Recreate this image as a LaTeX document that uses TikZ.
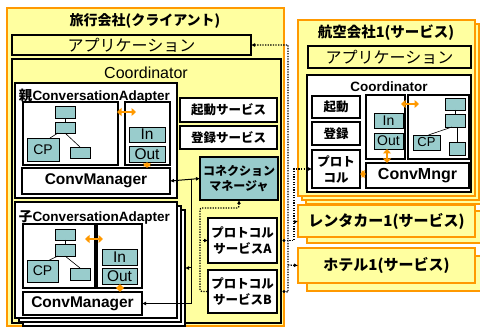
\documentclass[tikz,border=0pt]{standalone}
\usepackage{fontspec}
\setmainfont{Liberation Sans}
\newfontfamily\jp{Noto Sans CJK JP}
\usetikzlibrary{arrows.meta}
\definecolor{pale}{RGB}{255,255,160}
\definecolor{orng}{RGB}{255,153,0}
\definecolor{tealc}{RGB}{153,204,204}
% box from its corners: [style]{name}{x1}{y1}{x2}{y2}{text}
\newcommand{\tbx}[7][]{%
  \pgfmathsetmacro\tbxw{#5-#3}%
  \pgfmathsetmacro\tbxh{#6-#4}%
  \node[#1, anchor=north west, minimum width=\tbxw pt, minimum height=\tbxh pt] (#2) at (#3,#4) {#7};}
\begin{document}
\begin{tikzpicture}[x=1pt,y=-1pt,
  every node/.style={inner sep=0pt,outer sep=0pt},
  orframe/.style={draw=orng,line width=1.5pt,fill=pale},
  appbox/.style={draw=black,line width=1.5pt,fill=pale,font=\jp\fontsize{16}{18}\selectfont},
  coordbox/.style={draw=black,line width=1.5pt,fill=pale},
  wbox/.style={draw=black,line width=1.2pt,fill=white},
  tbox/.style={draw=black,line width=0.8pt,fill=tealc,font=\fontsize{14}{16}\selectfont},
  iobox/.style={tbox,font=\fontsize{15.5}{17}\selectfont},
  cmbox/.style={wbox,line width=1.5pt,font=\bfseries\fontsize{15.5}{18}\selectfont},
  svbox/.style={draw=black,line width=1.5pt,fill=white,align=center,font=\jp\bfseries\fontsize{12.5}{16}\selectfont},
  cnbox/.style={draw=black,line width=2pt,fill=tealc,align=center,font=\jp\bfseries\fontsize{12}{15}\selectfont},
  orbox/.style={draw=orng,line width=1.5pt,fill=pale},
  tline/.style={draw=black,line width=0.6pt},
  oarr/.style={draw=orng,line width=2.2pt,{Triangle[length=4.5pt,width=8pt]}-{Triangle[length=4.5pt,width=8pt]}},
  blk/.style={draw=black,line width=1pt},
  dotl/.style={draw=black,line width=1.3pt,dash pattern=on 1.3pt off 1.3pt}
]
\useasboundingbox (0,0) rectangle (480,328);
\fill[white] (0,0) rectangle (480,328);

% ---------- client side ----------
\tbx[orframe]{client}{7}{8}{284}{326}{}
\node[font=\jp\bfseries\fontsize{14}{16}\selectfont] (ctitle) at (145,21) {旅行会社(クライアント)};
\tbx[appbox]{app}{12}{35}{251}{55}{アプリケーション}
\tbx[coordbox]{coord}{12}{59}{281}{323}{}
\node[font=\fontsize{16}{18}\selectfont] (coordlbl) at (146,73) {Coordinator};

% parent conversation adapter
\tbx[wbox]{padapt}{15}{83}{177}{198}{}
\node[anchor=west,font=\bfseries\fontsize{13.5}{16}\selectfont] (padlbl) at (19,96) {{\jp 親}ConversationAdapter};
\tbx[wbox]{pleft}{23}{102}{118}{165}{}
\tbx[wbox]{pright}{125}{102}{170}{165}{}
\tbx[tbox]{pt1}{55}{106}{75}{118}{}
\tbx[tbox]{pt2}{55}{122}{75}{133}{}
\tbx[tbox]{pcp}{27}{138}{59}{161}{CP}
\tbx[tbox]{pt3}{70}{147}{90}{158}{}
\draw[tline] (pt1.south) -- (pt2.north);
\draw[tline] ([xshift=3pt]pt2.south west) -- ([xshift=7pt]pcp.north);
\draw[tline] (pt2.south) -- (pt3.north);
\tbx[iobox]{pin}{129}{127}{165}{142}{In}
\tbx[iobox]{pout}{129}{146}{165}{162}{Out}
\tbx[cmbox]{pcm}{22}{168}{170}{194}{ConvManager}
\draw[oarr] (117,112) -- (136,112);
\draw[oarr] (pout.south -| 147,0) -- (pcm.north -| 147,0);

% services of the coordinator
\tbx[svbox]{kidou}{180}{98}{277}{122}{起動サービス}
\tbx[svbox]{touroku}{180}{126}{277}{149}{登録サービス}
\tbx[cnbox]{conn}{200}{157}{278}{200}{コネクション\\マネージャ}
\tbx[svbox]{psa}{208}{218}{277}{263}{プロトコル\\サービスA}
\tbx[svbox]{psb}{208}{270}{277}{313}{プロトコル\\サービスB}

% child conversation adapters (stacked)
\tbx[wbox]{cback2}{23}{210}{185}{326}{}
\tbx[wbox]{cback1}{19}{206}{181}{322}{}
\tbx[wbox]{cadapt}{15}{202}{177}{318}{}
\node[anchor=west,font=\bfseries\fontsize{13.5}{16}\selectfont] (cadlbl) at (19,217) {{\jp 子}ConversationAdapter};
\tbx[wbox]{cleft}{23}{224}{95}{288}{}
\tbx[wbox]{cright}{97}{224}{142}{288}{}
\tbx[tbox]{ct1}{55}{229}{75}{240}{}
\tbx[tbox]{ct2}{55}{244}{75}{256}{}
\tbx[tbox]{ccp}{27}{260}{58}{282}{CP}
\tbx[tbox]{ct3}{70}{268}{90}{280}{}
\draw[tline] (ct1.south) -- (ct2.north);
\draw[tline] ([xshift=3pt]ct2.south west) -- ([xshift=7pt]ccp.north);
\draw[tline] (ct2.south) -- (ct3.north);
\tbx[iobox]{cin}{102}{249}{137}{265}{In}
\tbx[iobox]{cout}{102}{268}{137}{284}{Out}
\tbx[cmbox]{ccm}{23}{292}{142}{315}{ConvManager}
\draw[oarr] (85,239) -- (103,239);
\draw[oarr] (cout.south -| 120,0) -- (ccm.north -| 120,0);

% connection manager links
\draw[blk,{Latex[length=4pt,width=4pt]}-{Latex[length=4pt,width=4pt]}] (pcm.east) -- (conn.west);
\coordinate (j1) at (191,179.5);
\draw[blk,-{Latex[length=4pt,width=4pt]}] (j1) |- (ccm.east);
\draw[blk,-{Latex[length=4pt,width=4pt]}] (j1 |- cback2.east) -- (cback2.east);

\coordinate (d1) at (200,208);
\draw[dotl,rounded corners=2pt,{Latex[length=4pt,width=4pt]}-] (conn.south) |- (d1) |- (psb.west);
\draw[dotl,-{Latex[length=4pt,width=4pt]}] (d1 |- psa.west) -- (psa.west);

% ---------- airline service ----------
\tbx[orbox]{airb2}{306}{28}{483}{204}{}
\tbx[orbox]{airb1}{302}{24}{479}{200}{}
\tbx[orbox]{air}{298}{20}{475}{196}{}
\node[font=\jp\bfseries\fontsize{14.5}{17}\selectfont] (airtitle) at (386,33) {航空会社1(サービス)};
\tbx[appbox]{aapp}{308}{46}{471}{68}{アプリケーション}
\tbx[wbox]{acoord}{307}{75}{471}{192}{}
\node[font=\bfseries\fontsize{13.5}{16}\selectfont] (acoordlbl) at (389,87) {Coordinator};
\tbx[svbox]{akidou}{312}{96}{360}{118}{起動}
\tbx[svbox]{atour}{312}{122}{360}{145}{登録}
\tbx[svbox]{aproto}{312}{150}{360}{188}{プロト\\コル}
\tbx[wbox]{amid}{366}{95}{405}{159}{}
\tbx[wbox]{aright}{408}{95}{469}{159}{}
\tbx[iobox]{ain}{374}{113}{403}{128}{\fontsize{14}{16}\selectfont In}
\tbx[iobox]{aout}{374}{133}{403}{149}{\fontsize{14}{16}\selectfont Out}
\tbx[tbox]{at1}{445}{98}{465}{110}{}
\tbx[tbox]{at2}{445}{114}{465}{127}{}
\tbx[tbox]{acp}{413}{135}{440}{150}{\fontsize{13}{15}\selectfont CP}
\tbx[tbox]{at3}{449}{142}{465}{155}{}
\draw[tline] (at1.south) -- (at2.north);
\draw[tline] ([xshift=-3pt]at2.south) -- ([xshift=2pt]acp.north);
\draw[tline] (at2.south -| at3.north) -- (at3.north);
\tbx[cmbox]{amgr}{366}{163}{469}{188}{\fontsize{16}{18}\selectfont ConvMngr}
\draw[oarr] (401,104) -- (419,104);
\draw[oarr] (aout.south -| 387,0) -- (amgr.north -| 387,0);
\draw[oarr] (aproto.east |- 0,174) -- (amgr.west |- 0,174);

% ---------- rental car and hotel services ----------
\tbx[orbox]{rentb}{307}{211}{484}{243}{}
\tbx[orbox]{rent}{298}{205}{475}{237}{\jp\bfseries\fontsize{15}{17}\selectfont レンタカー1(サービス)}
\tbx[orbox]{hotelb}{307}{256}{484}{291}{}
\tbx[orbox]{hotel}{298}{248}{475}{283}{\jp\bfseries\fontsize{15}{17}\selectfont ホテル1(サービス)}

% ---------- message paths between the parties ----------
\draw[dotl,{Latex[length=4pt,width=4pt]}-] (app.east) -- (288,45) -- (288,292) -- (client.east |- psb.east);
\draw[dotl,-{Latex[length=4pt,width=4pt]}] (client.east |- psa.east) -| (294,169) -- (aproto.west);
\draw[dotl,-{Latex[length=4pt,width=4pt]}] (294,222) -- (rent.west);
\draw[dotl,-{Latex[length=4pt,width=4pt]}] (288,265) -- (hotel.west);
\fill (client.east |- psa.east) circle (1.6pt);
\fill (client.east |- psb.east) circle (1.6pt);
\end{tikzpicture}
\end{document}
